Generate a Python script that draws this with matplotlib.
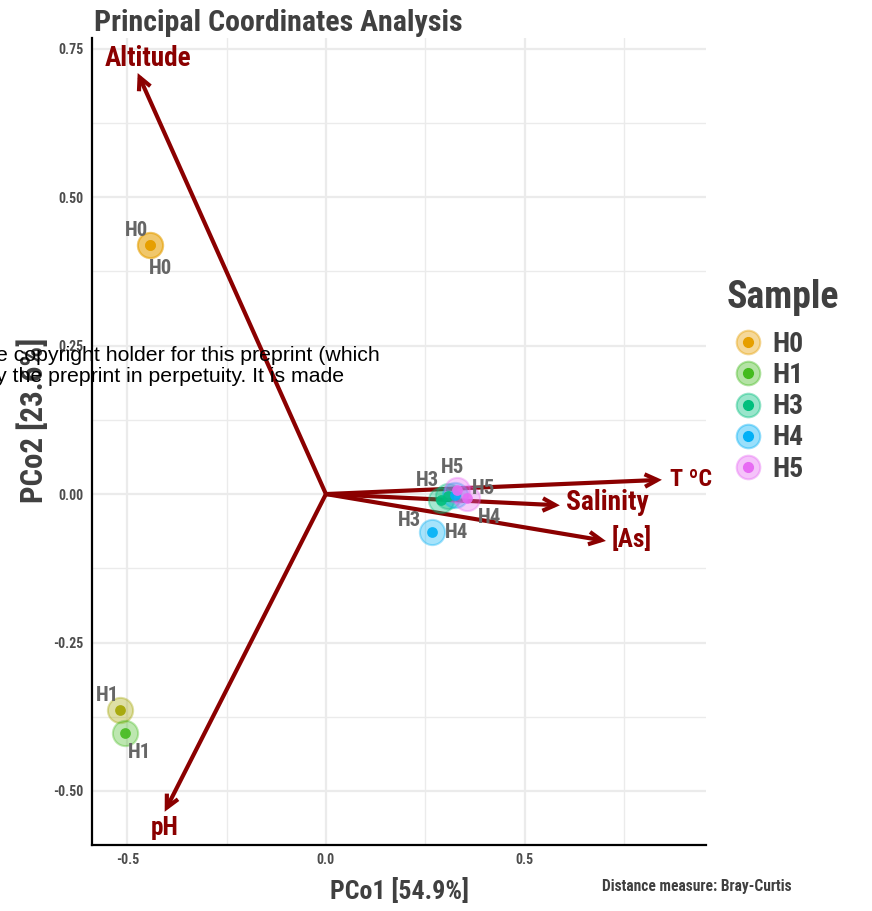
"""
PCoA biplot (Bray-Curtis) with environmental vectors.
"""
import numpy as np
import matplotlib
matplotlib.use('Agg')
import matplotlib.pyplot as plt
from matplotlib import font_manager
from matplotlib.lines import Line2D
from matplotlib.ticker import FixedLocator, FuncFormatter

# sample scores
samples = ['H0', 'H0', 'H1', 'H1', 'H3', 'H3', 'H4', 'H4', 'H5', 'H5']
pco1 = [-0.443, -0.443, -0.519, -0.506, 0.290, 0.307, 0.267, 0.325, 0.330, 0.355]
pco2 = [0.419, 0.419, -0.364, -0.402, -0.010, -0.003, -0.064, -0.002, 0.007, -0.007]

# environmental fit vectors
env_names = ['Altitude', 'pH', 'T ºC', 'Salinity', '[As]']
env_x = [-0.474, -0.406, 0.846, 0.589, 0.705]
env_y = [0.709, -0.535, 0.024, -0.019, -0.079]
env_label_x = [-0.448, -0.406, 0.918, 0.708, 0.771]
env_label_y = [0.733, -0.563, 0.024, -0.015, -0.076]

legend_order = ['H0', 'H1', 'H3', 'H4', 'H5']
y_ticks = [-0.50, -0.25, 0.00, 0.25, 0.50, 0.75]
x_ticks = [-0.5, 0.0, 0.5]

colours = {'H0': '#E69F00', 'H1': '#44BB1E', 'H3': '#00BF7D',
           'H4': '#00B0F6', 'H5': '#E76BF3'}
odd_colour = {2: '#A3A500'}  # one H1 point is drawn in the default hue
# label offsets in pixels (dx, dy) for each sample label
label_off = [(-13, 15), (11, -23), (-12, 15), (15, -20), (-14, 19),
             (-38, -25), (25, 0), (35, -22), (-4, 22), (17, 10)]

# pick a condensed face if there is one
have = {f.name for f in font_manager.fontManager.ttflist}
prefs = ['Roboto Condensed', 'Liberation Sans Narrow', 'DejaVu Sans Condensed',
         'Open Sans Condensed', 'Roboto', 'DejaVu Sans']
FONT = [f for f in prefs if f in have] + ['DejaVu Sans']
plt.rcParams['font.family'] = FONT
plt.rcParams['font.weight'] = 'bold'
plt.rcParams['axes.labelweight'] = 'bold'
TXT = '#404040'
DARKRED = '#8B0000'

fig = plt.figure(figsize=(8.72, 9.11), dpi=100)
ax = fig.add_axes([92 / 872, 66 / 911, 614 / 872, 807 / 911])
ax.set_xlim(-0.589, 0.957)
ax.set_ylim(-0.591, 0.768)

ax.xaxis.set_major_locator(FixedLocator(x_ticks))
ax.xaxis.set_minor_locator(FixedLocator([-0.25, 0.25, 0.75]))
ax.yaxis.set_major_locator(FixedLocator(y_ticks))
ax.yaxis.set_minor_locator(FixedLocator([-0.375, -0.125, 0.125, 0.375, 0.625]))
ax.xaxis.set_major_formatter(FuncFormatter(lambda v, p: '%.1f' % v))
ax.yaxis.set_major_formatter(FuncFormatter(lambda v, p: '%.2f' % v))
ax.grid(True, which='major', color='#EBEBEB', lw=1.6)
ax.grid(True, which='minor', color='#EBEBEB', lw=1.0)
ax.set_axisbelow(True)
ax.tick_params(which='both', length=0, pad=6, labelsize=9, labelcolor='#4D4D4D')
for s in ['top', 'right']:
    ax.spines[s].set_visible(False)
for s in ['left', 'bottom']:
    ax.spines[s].set_linewidth(1.6)
    ax.spines[s].set_color('black')

fits = []  # (text, target width px)

# arrows
for name, ex, ey, lx, ly in zip(env_names, env_x, env_y, env_label_x, env_label_y):
    ax.annotate('', xy=(ex, ey), xytext=(0, 0),
                arrowprops=dict(arrowstyle='->,head_length=0.9,head_width=0.45',
                                lw=3, color=DARKRED, shrinkA=0, shrinkB=0,
                                joinstyle='miter', capstyle='butt'))
    t = ax.text(lx, ly, name, color=DARKRED, fontsize=17, ha='center', va='center')
    fits.append((t, {'Altitude': 87, 'pH': 28, 'T ºC': 42, 'Salinity': 83, '[As]': 40}[name]))

# points
for i, (s, x, y) in enumerate(zip(samples, pco1, pco2)):
    c = odd_colour.get(i, colours[s])
    ax.scatter(x, y, s=330, color=c, alpha=0.35, edgecolors=c, linewidths=1.5, zorder=3)
    ax.scatter(x, y, s=60, color=c, alpha=0.9, linewidths=0, zorder=4)
    dx, dy = label_off[i]
    t = ax.annotate(s, (x, y), xytext=(dx * 0.72, dy * 0.72), textcoords='offset points',
                    ha='center', va='center', fontsize=13, color='#666666', zorder=5)
    fits.append((t, 23))

ax.set_xlabel('PCo1 [54.9%]', fontsize=19, color=TXT, labelpad=8)
fits.append((ax.xaxis.label, 139))
ylab = fig.text(33 / 872, 1 - 420 / 911, 'PCo2 [23.6%]', fontsize=19, color=TXT,
                rotation=90, ha='center', va='center')
fits.append((ylab, -165))  # rotated: fit on height
title = fig.text(94 / 872, 1 - 23 / 911, 'Principal Coordinates Analysis', fontsize=22,
                 color=TXT, ha='left', va='center')
fits.append((title, 369))
cap = fig.text(792 / 872, 1 - 886 / 911, 'Distance measure: Bray-Curtis', fontsize=9.5,
               color=TXT, ha='right', va='center')
fits.append((cap, 191))
leg_title = fig.text(727 / 872, 1 - 298 / 911, 'Sample', fontsize=25, color=TXT,
                     ha='left', va='center')
fits.append((leg_title, 113))

# legend
handles = [(Line2D([], [], ls='', marker='o', ms=17, color=colours[k], alpha=0.4,
                   mec=colours[k], mew=1.5),
            Line2D([], [], ls='', marker='o', ms=7, color=colours[k]))
           for k in legend_order]

# overlaid watermark text from the source document
wm_font = ['Liberation Sans', 'DejaVu Sans']
fig.text(-4 / 872, 1 - 355 / 911, 'e copyright holder for this preprint (which',
         fontsize=15.3, family=wm_font, weight='normal',
         color='black', ha='left', va='center')
fig.text(-4 / 872, 1 - 377 / 911, 'y the preprint in perpetuity. It is made',
         fontsize=15.3, family=wm_font, weight='normal',
         color='black', ha='left', va='center')

# scale font sizes so text widths match the reference
fig.canvas.draw()
r = fig.canvas.get_renderer()
for t, w in fits:
    bb = t.get_window_extent(r)
    cur = bb.height if w < 0 else bb.width
    t.set_fontsize(t.get_fontsize() * abs(w) / cur)

tl = ax.get_yticklabels()[-1]
ts = 9 * 25 / tl.get_window_extent(r).width
ax.tick_params(labelsize=ts)

# legend label size from width of 'H0'
probe = fig.text(0, 0, 'H0', fontsize=19)
lsz = 19 * 31 / probe.get_window_extent(r).width
probe.remove()

leg = fig.legend(handles, legend_order, loc='upper left',
                 bbox_to_anchor=(727 / 872, 1 - 331 / 911), frameon=False,
                 fontsize=lsz, handlelength=1.5, handletextpad=0.15,
                 labelspacing=0.15, borderpad=0, borderaxespad=0)
for t in leg.get_texts():
    t.set_color(TXT)

fig.savefig('out.png', dpi=100)
